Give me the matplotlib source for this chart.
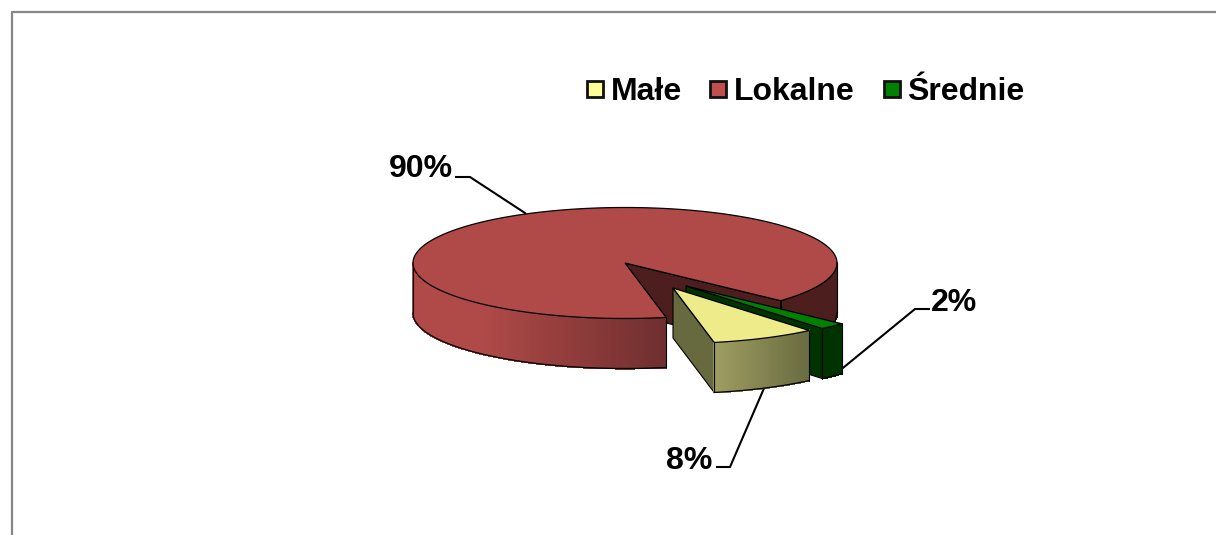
import numpy as np
import matplotlib
matplotlib.use("Agg")
import matplotlib.pyplot as plt
from matplotlib.patches import Polygon, Rectangle

plt.rcParams['font.family'] = ['Liberation Sans', 'DejaVu Sans']

# data
labels = ['Małe', 'Lokalne', 'Średnie']
values = [8, 90, 2]
legend_colors = ['#FFFF99', '#C0504D', '#008000']
top_colors = ['#EEEC8A', '#B04A48', '#008000']
wall_colors = ['#676A3F', '#4C1E1E', '#003300']

# layout in pixels of the 1216x535 picture
cx, cy = 625, 263
rx, ry = 212, 55.5
depth = 50
start = 50  # screen degrees, clockwise from east
offsets = [(48, 25), (0, 0), (61, 23)]


def lerp_color(c1, c2, t):
    a = np.array(matplotlib.colors.to_rgb(c1))
    b = np.array(matplotlib.colors.to_rgb(c2))
    return a + (b - a) * t


def rim_xy(apex, ang):
    ang = np.radians(ang)
    return apex[0] + rx * np.cos(ang), apex[1] + ry * np.sin(ang)


def draw_rim(ax, apex, a0, a1, c_func):
    # side of the slice as thin strips so it can carry a gradient
    angs = np.arange(a0, a1, 0.5)
    angs = np.append(angs, a1)
    for i in range(len(angs) - 1):
        x0, y0 = rim_xy(apex, angs[i])
        x1, y1 = rim_xy(apex, angs[i + 1])
        col = c_func((x0 + x1) / 2)
        ax.add_patch(Polygon([(x0, y0), (x1, y1), (x1, y1 + depth), (x0, y0 + depth)],
                             facecolor=col, edgecolor=col, lw=0.8, antialiased=False, zorder=ax.z))
        ax.z += 0.001
    xs, ys = rim_xy(apex, angs)
    ax.plot(xs, ys + depth, color='black', lw=0.9, zorder=ax.z + 0.5)
    for a in (a0, a1):
        x, y = rim_xy(apex, a)
        ax.plot([x, x], [y, y + depth], color='black', lw=0.8, zorder=ax.z + 0.5)
    ax.z += 1


def draw_wall(ax, apex, ang, col):
    x, y = rim_xy(apex, ang)
    ax.add_patch(Polygon([apex, (x, y), (x, y + depth), (apex[0], apex[1] + depth)],
                         facecolor=col, edgecolor='black', lw=0.8, zorder=ax.z))
    ax.z += 1


def draw_top(ax, apex, a0, a1, col):
    angs = np.linspace(a0, a1, 200)
    xs, ys = rim_xy(apex, angs)
    pts = [apex] + list(zip(xs, ys))
    ax.add_patch(Polygon(pts, closed=True, facecolor=col, edgecolor='black', lw=0.9, zorder=ax.z))
    ax.z += 1


fig = plt.figure(figsize=(12.16, 5.35), dpi=100)
ax = fig.add_axes([0, 0, 1, 1])
ax.set_xlim(0, 1216)
ax.set_ylim(535, 0)
ax.axis('off')
ax.z = 2

# chart frame, open at right and bottom
ax.plot([11.5, 11.5, 1216], [535, 12, 12], color='#868686', lw=1.6, zorder=1)

total = sum(values)
spans = []
a = start
for v in values:
    spans.append((a, a + v / total * 360))
    a = spans[-1][1]

# big slice first
a0, a1 = spans[1]
apex = (cx + offsets[1][0], cy + offsets[1][1])
draw_rim(ax, apex, 0, a1 - 360, lambda x: wall_colors[1])
draw_wall(ax, apex, a1, wall_colors[1])
draw_rim(ax, apex, a0, 180,
         lambda x: lerp_color('#B04A48', '#6E2E2E', np.clip((x - 480) / (667 - 480), 0, 1)))
draw_top(ax, apex, a0, a1, top_colors[1])

# small green slice behind the yellow one
a0, a1 = spans[2]
apex = (cx + offsets[2][0], cy + offsets[2][1])
draw_rim(ax, apex, a0 - 360, a1 - 360, lambda x: wall_colors[2])
draw_wall(ax, apex, a1, wall_colors[2])
draw_top(ax, apex, a0, a1, top_colors[2])

# yellow slice
a0, a1 = spans[0]
apex = (cx + offsets[0][0], cy + offsets[0][1])
draw_wall(ax, apex, a1, wall_colors[0])
draw_rim(ax, apex, a0, a1,
         lambda x: lerp_color('#676A3F', '#9B9A5F', np.clip((810 - x) / 90, 0, 1)))
draw_top(ax, apex, a0, a1, top_colors[0])

# leader lines and percent labels
ax.plot([456, 470, 525], [177, 177, 213], color='black', lw=1.5, zorder=1.5)
ax.plot([838, 915, 929], [372, 309, 309], color='black', lw=1.5, zorder=1.5)
ax.plot([717, 730, 765], [467, 467, 386], color='black', lw=1.5, zorder=1.5)
fs = 23
ax.text(421, 169, f'{values[1]}%', fontsize=fs, fontweight='bold', ha='center', va='center')
ax.text(954, 303, f'{values[2]}%', fontsize=fs, fontweight='bold', ha='center', va='center')
ax.text(689, 461, f'{values[0]}%', fontsize=fs, fontweight='bold', ha='center', va='center')

# legend
sq_x = [587, 710, 884]
txt_x = [611, 734, 907]
for i in range(len(labels)):
    ax.add_patch(Rectangle((sq_x[i], 81), 16, 16, facecolor=legend_colors[i],
                           edgecolor='#111111', lw=2, zorder=3))
    ax.text(txt_x[i], 99.5, labels[i], fontsize=fs, fontweight='bold', ha='left', va='baseline')

fig.savefig('out.png', dpi=100)
